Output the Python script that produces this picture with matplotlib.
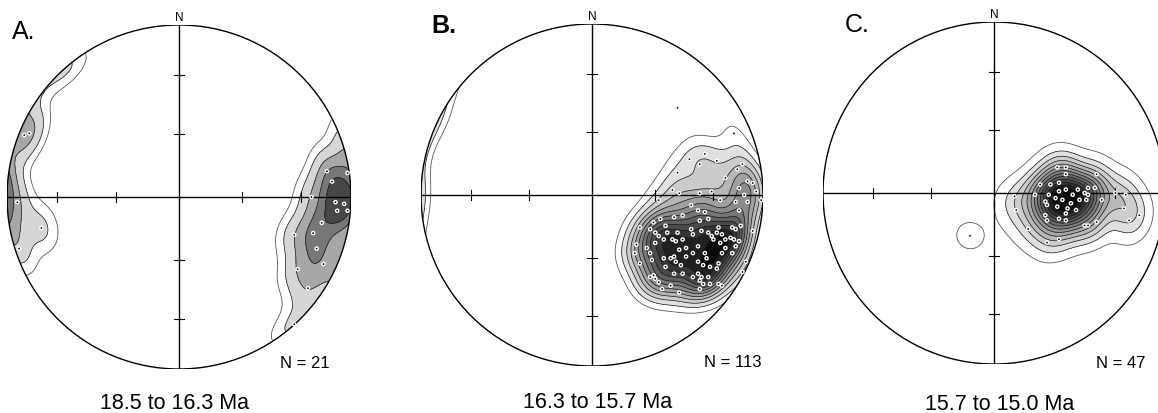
import numpy as np
import matplotlib
matplotlib.use("Agg")
import matplotlib.pyplot as plt
from matplotlib.patches import Circle

plt.rcParams['font.family'] = ['Liberation Sans', 'DejaVu Sans']

# ---------------- data: poles in equal-area net coordinates (% of primitive radius)
# Panel A: 18.5 to 16.3 Ma (N = 21)
a_east = [98, 86, 89, 96, 91, 92, 98, 77, 83, 78, 80, 84, 67, 69, 75, 67,
          -90, -87, -94, -93, -80]
a_north = [14, 15, 9, -4, -3, -8, -8, 0, -15, -21, -30, -39, -22, -42, -53, -74,
           36, 37, -3, -30, -18]

# Panel B: 16.3 to 15.7 Ma (N = 113)
b_east = [50, 83, 66, 57, 63, 73, 88, 50, 78, 85, 91, 94, 86, 89, 91, 99, 84, 96, 47, 51,
          63, 70, 75, 39,
          58, 62, 66, 68, 53, 48, 63, 58, 59, 64, 68, 70, 74, 73, 71, 76, 78, 75, 81, 84,
          82, 87, 83, 86, 84, 78, 82, 76, 74, 73, 69, 65, 62, 59, 55, 62, 66, 67, 62, 64,
          63, 65, 69, 68, 74, 59, 53, 52, 49, 48, 46, 43, 42, 51, 49, 47, 42, 44, 39, 37,
          43, 40, 36, 34, 37, 32, 34, 35, 36, 37, 39, 46, 48, 50, 53, 55,
          28, 26, 25, 28, 34, 41, 51, 63, 76, 88, 90, 94, 86]
b_north = [51, 36, 24, 21, 18, 20, 18, 13, 10, 15, 8, 7, 4, 0, -4, -3, -4, 2, 3, 1,
           1, 2, -3, -3,
           -6, -9, -10, -14, -12, -13, -15, -20, -23, -21, -22, -24, -19, -22, -26, -23, -26, -28, -25, -20,
           -19, -18, -26, -27, -30, -31, -34, -34, -40, -43, -42, -41, -39, -34, -31, -30, -34, -37, -46, -48,
           -50, -52, -52, -48, -52, -48, -46, -41, -39, -36, -37, -42, -37, -32, -27, -26, -26, -22, -24, -22,
           -18, -14, -16, -20, -28, -31, -34, -38, -47, -49, -51, -53, -46, -22, -26, -36,
           -19, -29, -34, -40, -48, -55, -57, -55, -53, -45, -39, -21, -9]

# Panel C: 15.7 to 15.0 Ma (N = 47)
c_east = [37, 42, 42, 38, 42, 33, 27, 32, 38, 46, 49, 53, 55, 59, 55, 50, 45, 40, 36, 30,
          31, 37, 43, 42, 48, 54, 38, 30, 31, 42, 53, 55, 63, 71, 24,
          12, 13, 20, 38, 31, 60, 76, 79, 85, 77, 60, -14]
c_north = [15, 15, 11, 6, 2, 5, 5, -1, 1, -1, 2, 0, 3, 3, -1, -4, -6, -4, -3, -5,
           -7, -8, -9, -12, -10, -4, -15, -13, -16, -16, -19, -19, -4, 0, -1,
           -2, -10, -21, -27, -29, -17, -9, -16, -13, -1, 11, -25]

panel_letters = ["A.", "B.", "C."]
panel_titles = ["18.5 to 16.3 Ma", "16.3 to 15.7 Ma", "15.7 to 15.0 Ma"]
panel_counts = ["N = 21", "N = 113", "N = 47"]

# ---------------- layout (pixels)
W, H = 1158, 414
centres = [(179, 198, 172), (592, 196, 171), (994, 194, 171)]
kappas = [70, 75, 70]
level_sets = [
    [0.42, 0.9, 1.7, 2.6, 3.5],
    [1.1, 2.2, 3.4, 4.6, 5.8, 7.0, 8.2, 9.4, 10.6, 11.8, 13.0, 14.2],
    [0.66, 1.7, 2.7, 3.7, 4.7, 5.7, 6.7, 7.7, 8.7, 9.7, 10.7, 11.7, 12.7],
]


def to_vec(e, n):
    r = np.hypot(e, n)
    theta = 2 * np.arcsin(np.clip(r / np.sqrt(2), 0, 1))
    az = np.arctan2(e, n)
    return np.stack([np.sin(theta) * np.sin(az), np.sin(theta) * np.cos(az), -np.cos(theta)], -1)


fig = plt.figure(figsize=(W / 100, H / 100), dpi=100)

datasets = [(a_east, a_north), (b_east, b_north), (c_east, c_north)]
for i, ((east, north), (cx, cy, rad)) in enumerate(zip(datasets, centres)):
    ax = fig.add_axes([(cx - rad) / W, (H - cy - rad) / H, 2 * rad / W, 2 * rad / H])
    ax.set_xlim(-1, 1)
    ax.set_ylim(-1, 1)
    ax.axis('off')

    e = np.asarray(east, float) / 100
    n = np.asarray(north, float) / 100
    P = to_vec(e, n)

    g = np.linspace(-1.03, 1.03, 320)
    X, Y = np.meshgrid(g, g)
    V = to_vec(X, Y)
    D = np.zeros_like(X)
    for p in P:
        d = np.abs(V @ p)
        D += np.exp(kappas[i] * (d - 1))

    lv = level_sets[i]
    nf = len(lv) - 1
    top = max(D.max(), lv[-1]) + 1
    if i == 0:
        grays = np.linspace(0.84, 0.28, nf)
    else:
        grays = np.linspace(0.88, 0.04, nf)
    fill_colors = [str(round(v, 3)) for v in grays]
    circ = Circle((0, 0), 1, transform=ax.transData, facecolor='none')
    cf = ax.contourf(X, Y, D, levels=lv[1:] + [top], colors=fill_colors, zorder=1)
    cf.set_clip_path(circ)
    cl = ax.contour(X, Y, D, levels=lv, colors=['0.35'] + ['0.1'] * nf,
                    linewidths=[0.6] + [0.5] * nf, zorder=2)
    cl.set_clip_path(circ)

    # net frame
    ax.add_patch(Circle((0, 0), 1, facecolor='none', edgecolor='black', lw=1.0, zorder=5))
    ax.plot([-1, 1], [0, 0], color='black', lw=1.0, zorder=5)
    ax.plot([0, 0], [-1, 1], color='black', lw=1.0, zorder=5)
    for ang in (30, 60):
        r = np.sqrt(2) * np.sin(np.radians(ang) / 2)
        for s in (-1, 1):
            ax.plot([s * r, s * r], [-0.03, 0.03], color='black', lw=0.8, zorder=5)
            ax.plot([-0.03, 0.03], [s * r, s * r], color='black', lw=0.8, zorder=5)

    # poles
    ax.scatter(e, n, s=11, facecolors='white', edgecolors='none', zorder=6)
    ax.scatter(e, n, s=1.6, facecolors='black', edgecolors='none', zorder=7)

    ax.text(0, 1.012, 'N', ha='center', va='bottom', fontsize=8.5, zorder=8)

# texts in pixel coordinates
letter_pos = [(12, 39), (431, 33), (845, 32)]
for (x, y), s in zip(letter_pos, panel_letters):
    fig.text(x / W, 1 - y / H, s, fontsize=18, ha='left', va='baseline',
             fontweight='bold' if s == 'B.' else 'normal')
count_pos = [(330, 368), (762, 367), (1145, 368)]
for (x, y), s in zip(count_pos, panel_counts):
    fig.text(x / W, 1 - y / H, s, fontsize=12, ha='right', va='baseline')
title_pos = [(175, 409), (598, 408), (1000, 410)]
for (x, y), s in zip(title_pos, panel_titles):
    fig.text(x / W, 1 - y / H, s, fontsize=15.5, ha='center', va='baseline')

fig.savefig('out.png', dpi=100)
